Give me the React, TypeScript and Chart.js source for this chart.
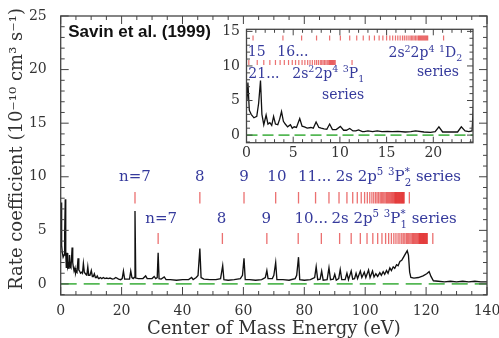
import React, { useEffect, useRef } from "react";
import { Chart, registerables } from "chart.js";

Chart.register(...registerables);

// ---------------- data ----------------
const ENERGY = [
  0.05, 0.15, 0.3, 0.5, 0.8, 1.1, 1.3, 1.5, 1.65, 1.85, 2.1, 2.3, 2.5, 2.7, 2.9, 3.1, 3.35, 3.55, 3.75, 3.95,
  4.15, 4.4, 4.7, 4.9, 5.1, 5.35, 5.7, 5.95, 6.2, 6.5, 6.9, 7.15, 7.45, 7.75, 8.0, 8.3, 8.6, 8.9, 9.2, 9.6,
  10.05, 10.4, 10.7, 11.05, 11.4, 11.7, 12.0, 12.4, 12.6, 13.0, 13.5, 14.0, 14.5, 15.1, 15.6, 16.2, 17.0, 17.6, 18.1, 19.0,
  19.7, 20.2, 20.6, 21.0, 22.0, 22.6, 23.0, 23.4, 23.8, 24.15, 24.4, 24.65, 25.5, 27.0, 27.9, 28.4, 30.0, 30.7, 31.2, 31.7,
  32.0, 32.3, 33.0, 34.0, 34.6, 36.0, 38.0, 40.0, 42.0, 43.0, 43.5, 44.5, 45.1, 45.7, 46.1, 47.0, 49.0, 51.0, 52.5, 53.2,
  53.6, 55.0, 57.0, 59.0, 59.7, 60.2, 60.6, 62.0, 64.0, 66.0, 67.2, 67.7, 68.1, 69.5, 70.0, 70.6, 71.0, 73.0, 75.0, 77.0,
  77.5, 78.1, 78.5, 80.0, 82.0, 83.4, 83.9, 84.4, 85.2, 85.7, 86.2, 87.5, 88.1, 88.6, 89.5, 90.0, 90.5, 91.3, 91.8, 92.3,
  93.4, 94.0, 94.5, 95.4, 95.9, 96.5, 97.0, 97.5, 98.4, 98.9, 99.7, 100.2, 101.1, 101.6, 102.4, 102.9, 103.5, 104.1, 104.8, 105.3,
  105.9, 106.4, 107.0, 107.5, 108.1, 108.6, 109.2, 109.7, 110.3, 110.8, 111.4, 112.0, 112.6, 113.2, 113.8, 114.2, 114.6, 115.0, 116.0, 117.5,
  119.0, 120.2, 121.0, 121.6, 122.4, 124.0, 126.0, 128.0, 130.0, 132.0, 134.0, 136.0, 138.0, 140.0,
];
const RATE = [
  5.0, 7.6, 3.6, 3.0, 2.5, 2.7, 4.6, 7.9, 3.0, 1.5, 2.9, 1.6, 1.8, 1.4, 2.7, 1.6, 1.5, 2.3, 3.4, 2.0,
  1.6, 1.2, 1.5, 1.0, 1.2, 1.1, 2.4, 1.3, 1.2, 1.0, 1.1, 1.0, 1.9, 1.1, 1.0, 0.9, 0.85, 1.6, 0.8, 0.8,
  1.25, 0.7, 0.7, 0.95, 0.6, 0.6, 0.75, 0.5, 0.5, 0.6, 0.5, 0.6, 0.5, 0.55, 0.5, 0.55, 0.45, 0.5, 0.6, 0.45,
  0.4, 0.5, 1.2, 0.45, 0.45, 0.45, 1.2, 0.6, 0.5, 0.6, 6.8, 0.55, 0.5, 0.5, 0.75, 0.5, 0.5, 0.7, 0.5, 0.6,
  2.9, 0.5, 0.45, 0.65, 0.4, 0.4, 0.35, 0.4, 0.4, 0.6, 0.4, 0.6, 0.8, 3.3, 0.6, 0.45, 0.4, 0.4, 0.5, 1.7,
  0.4, 0.35, 0.4, 0.5, 0.8, 2.4, 0.4, 0.4, 0.35, 0.4, 0.6, 1.25, 0.5, 0.5, 0.8, 2.0, 0.4, 0.4, 0.35, 0.5,
  0.8, 2.5, 0.4, 0.35, 0.4, 0.6, 1.6, 0.4, 0.45, 1.2, 0.35, 0.4, 1.5, 0.4, 0.45, 0.9, 0.35, 0.5, 1.35, 0.4,
  0.4, 1.0, 0.4, 1.2, 0.45, 0.5, 1.0, 0.5, 1.2, 0.6, 1.1, 0.6, 1.3, 0.6, 1.2, 0.65, 0.95, 0.7, 1.05, 0.8,
  1.15, 0.9, 1.25, 1.0, 1.5, 1.25, 1.6, 1.45, 1.8, 1.7, 2.1, 2.2, 2.5, 2.8, 3.1, 2.7, 1.1, 0.6, 0.55, 0.6,
  0.75, 0.95, 1.15, 0.7, 0.3, 0.25, 0.2, 0.25, 0.2, 0.25, 0.2, 0.25, 0.2, 0.2,
];

// zero reference (green dashed)
const BASELINE_X = [0, 140];
const BASELINE_Y = [0, 0];

// resonance positions, 2s 2p5 3P2 series (main panel, upper row)
const P2_SERIES = [
  24.4, 45.7, 60.2, 70.6, 78.1, 83.7, 88.1, 91.4, 94.0, 95.9, 97.4, 98.7, 99.8, 100.7, 101.5, 102.2, 102.8, 103.4,
  103.9, 104.4, 104.9, 105.3, 105.7, 106.1, 106.5, 106.9, 107.2, 107.5, 107.8, 108.1, 108.4, 108.7, 109.0, 109.3,
  109.6, 109.8, 110.0, 110.2, 110.4, 110.6, 110.8, 111.0, 111.2, 111.4, 111.6, 111.8, 112.0, 112.2, 112.4, 112.6,
  112.8, 114.5,
];
// resonance positions, 2s 2p5 3P1 series (main panel, lower row)
const P1_SERIES = [
  32.0, 53.1, 67.7, 78.0, 85.6, 91.6, 95.4, 98.4, 100.6, 102.5, 104.1, 105.5, 106.7, 107.7, 108.6, 109.4, 110.1,
  110.8, 111.4, 112.0, 112.5, 113.0, 113.5, 113.9, 114.3, 114.7, 115.1, 115.5, 115.8, 116.1, 116.4, 116.7, 117.0,
  117.3, 117.6, 117.8, 118.0, 118.2, 118.4, 118.6, 118.8, 119.0, 119.2, 119.4, 119.6, 119.8, 120.0, 120.2, 120.4,
  122.2,
];
// inset: 2s2 2p4 1D2 series
const D2_SERIES_INSET = [
  0.7, 3.9, 5.9, 7.5, 8.9, 10.05, 11.05, 11.8, 12.5, 13.15, 13.7, 14.2, 14.6, 15.0, 15.35, 15.65, 15.95, 16.2,
  16.45, 16.7, 16.9, 17.1, 17.3, 17.5, 17.65, 17.8, 17.95, 18.1, 18.25, 18.4, 18.5, 18.6, 18.7, 18.8, 18.9, 19.0,
  19.1, 19.2, 19.3, 19.4, 21.1,
];
// inset: 2s2 2p4 3P1 series
const P1_SERIES_INSET = [
  0.25, 1.15, 1.85, 2.5, 3.1, 3.6, 4.05, 4.5, 4.9, 5.25, 5.6, 5.95, 6.25, 6.55, 6.8, 7.05, 7.3, 7.5, 7.7, 7.9,
  8.05, 8.2, 8.35, 8.5, 8.65, 8.8, 8.9, 9.0, 9.1, 9.2, 9.3, 9.4, 9.5, 11.3,
];

const MAIN_X_TICKS = [0, 20, 40, 60, 80, 100, 120, 140];
const MAIN_Y_TICKS = [0, 5, 10, 15, 20, 25];
const INSET_X_TICKS = [0, 5, 10, 15, 20];
const INSET_Y_TICKS = [0, 5, 10, 15];

// marker row levels (data units)
const MAIN_ROW_P2 = 8.05;
const MAIN_ROW_P1 = 4.25;
const INSET_ROW_D2 = 14.05;
const INSET_ROW_P1 = 10.5;

type Seg = { t: string; k?: "sup" | "sub"; u?: string };
type Label = { x: number; y: number; align: "left" | "center"; segs: Seg[] };

const MAIN_LABELS: Label[] = [
  { x: 24.4, y: 10.1, align: "center", segs: [{ t: "n=7" }] },
  { x: 45.7, y: 10.1, align: "center", segs: [{ t: "8" }] },
  { x: 60.2, y: 10.1, align: "center", segs: [{ t: "9" }] },
  { x: 71.0, y: 10.1, align: "center", segs: [{ t: "10" }] },
  { x: 77.9, y: 10.1, align: "left", segs: [{ t: "11..." }] },
  {
    x: 90.3, y: 10.1, align: "left",
    segs: [{ t: "2s 2p" }, { t: "5", k: "sup" }, { t: " " }, { t: "3", k: "sup" }, { t: "P" }, { t: "*", k: "sup", u: "2" }, { t: " series" }],
  },
  { x: 33.0, y: 6.15, align: "center", segs: [{ t: "n=7" }] },
  { x: 52.8, y: 6.15, align: "center", segs: [{ t: "8" }] },
  { x: 67.5, y: 6.15, align: "center", segs: [{ t: "9" }] },
  { x: 76.8, y: 6.15, align: "left", segs: [{ t: "10..." }] },
  {
    x: 88.9, y: 6.15, align: "left",
    segs: [{ t: "2s 2p" }, { t: "5", k: "sup" }, { t: " " }, { t: "3", k: "sup" }, { t: "P" }, { t: "*", k: "sup", u: "1" }, { t: " series" }],
  },
];

const INSET_LABELS: Label[] = [
  { x: 1.1, y: 12.1, align: "center", segs: [{ t: "15" }] },
  { x: 3.3, y: 12.1, align: "left", segs: [{ t: "16..." }] },
  { x: 0.2, y: 9.0, align: "left", segs: [{ t: "21..." }] },
  {
    x: 4.9, y: 9.0, align: "left",
    segs: [{ t: "2s" }, { t: "2", k: "sup" }, { t: "2p" }, { t: "4", k: "sup" }, { t: " " }, { t: "3", k: "sup" }, { t: "P" }, { t: "1", k: "sub" }],
  },
  { x: 10.35, y: 6.0, align: "center", segs: [{ t: "series" }] },
  {
    x: 15.2, y: 12.0, align: "left",
    segs: [{ t: "2s" }, { t: "2", k: "sup" }, { t: "2p" }, { t: "4", k: "sup" }, { t: " " }, { t: "1", k: "sup" }, { t: "D" }, { t: "2", k: "sub" }],
  },
  { x: 20.5, y: 9.3, align: "center", segs: [{ t: "series" }] },
];

// ---------------- drawing helpers ----------------
const SERIF = "'DejaVu Serif', serif";
const BLUE = "#353a9c";
const RED = "rgba(222, 25, 25, 0.62)";
const INK = "#333";

function drawRich(ctx: CanvasRenderingContext2D, lab: Label, px: number, py: number, size: number) {
  const small = size * 0.68;
  const fN = `${size}px ${SERIF}`;
  const fS = `${small}px ${SERIF}`;
  const widths = lab.segs.map((s) => {
    ctx.font = s.k ? fS : fN;
    let w = ctx.measureText(s.t).width;
    if (s.u) {
      ctx.font = fS;
      w = Math.max(w, ctx.measureText(s.u).width);
    }
    return w;
  });
  const total = widths.reduce((a, b) => a + b, 0);
  let cx = lab.align === "center" ? px - total / 2 : px;
  const base = py + size * 0.36;
  ctx.textAlign = "left";
  ctx.textBaseline = "alphabetic";
  ctx.fillStyle = BLUE;
  lab.segs.forEach((s, i) => {
    if (s.k === "sup") {
      ctx.font = fS;
      ctx.fillText(s.t, cx, base - size * 0.4);
    } else if (s.k === "sub") {
      ctx.font = fS;
      ctx.fillText(s.t, cx, base + size * 0.3);
    } else {
      ctx.font = fN;
      ctx.fillText(s.t, cx, base);
    }
    if (s.u) {
      ctx.font = fS;
      ctx.fillText(s.u, cx, base + size * 0.32);
    }
    cx += widths[i];
  });
}

function labelPlugin(labels: Label[], size: number) {
  return {
    id: "labels",
    afterDraw(chart: any) {
      const { ctx, scales } = chart;
      ctx.save();
      labels.forEach((l) => drawRich(ctx, l, scales.x.getPixelForValue(l.x), scales.y.getPixelForValue(l.y), size));
      ctx.restore();
    },
  };
}

type FrameOpt = { xMinor: number; xMajor: number; yMinor: number; yMajor: number; major: number; minor: number };

function framePlugin(o: FrameOpt, fillWhite: boolean) {
  return {
    id: "frame",
    beforeDraw(chart: any) {
      if (!fillWhite) return;
      const { ctx, chartArea: a } = chart;
      ctx.save();
      ctx.fillStyle = "#fff";
      ctx.fillRect(a.left, a.top, a.right - a.left, a.bottom - a.top);
      ctx.restore();
    },
    afterDraw(chart: any) {
      const { ctx, chartArea: a, scales } = chart;
      const x = scales.x;
      const y = scales.y;
      ctx.save();
      ctx.strokeStyle = "#444";
      ctx.lineWidth = 1;
      ctx.beginPath();
      const isMajor = (v: number, m: number) => Math.abs(v / m - Math.round(v / m)) < 1e-6;
      for (let i = Math.ceil(x.min / o.xMinor); i * o.xMinor <= x.max + 1e-9; i++) {
        const v = i * o.xMinor;
        const p = x.getPixelForValue(v);
        const len = isMajor(v, o.xMajor) ? o.major : o.minor;
        ctx.moveTo(p, a.bottom);
        ctx.lineTo(p, a.bottom - len);
        ctx.moveTo(p, a.top);
        ctx.lineTo(p, a.top + len);
      }
      for (let i = Math.ceil(y.min / o.yMinor); i * o.yMinor <= y.max + 1e-9; i++) {
        const v = i * o.yMinor;
        const p = y.getPixelForValue(v);
        const len = isMajor(v, o.yMajor) ? o.major : o.minor;
        ctx.moveTo(a.left, p);
        ctx.lineTo(a.left + len, p);
        ctx.moveTo(a.right, p);
        ctx.lineTo(a.right - len, p);
      }
      ctx.stroke();
      ctx.lineWidth = 1.3;
      ctx.strokeRect(a.left, a.top, a.right - a.left, a.bottom - a.top);
      ctx.restore();
    },
  };
}

const mainExtras = {
  id: "mainExtras",
  afterDraw(chart: any) {
    const { ctx, chartArea: a } = chart;
    ctx.save();
    ctx.fillStyle = INK;
    ctx.font = `18px ${SERIF}`;
    ctx.textAlign = "center";
    ctx.textBaseline = "middle";
    ctx.translate(17, 149);
    ctx.rotate(-Math.PI / 2);
    ctx.fillText("Rate coefficient (10\u207B\u00B9\u2070 cm\u00B3 s\u207B\u00B9)", 0, 0);
    ctx.restore();
    ctx.save();
    ctx.fillStyle = "#111";
    ctx.font = "bold 17px 'Liberation Sans', Arial, sans-serif";
    ctx.textAlign = "left";
    ctx.textBaseline = "middle";
    ctx.fillText("Savin et al. (1999)", a.left + 7.5, a.top + 16.5);
    ctx.restore();
  },
};

function markerSet(xs: number[], level: number, radius: number, width: number) {
  return {
    data: xs.map((x) => ({ x, y: level })),
    showLine: false,
    pointStyle: "line",
    pointRotation: 90,
    pointRadius: radius,
    pointBorderColor: RED,
    pointBorderWidth: width,
    pointBackgroundColor: RED,
    borderColor: RED,
  };
}

function spectrumSet(width: number) {
  return {
    data: ENERGY.map((x, i) => ({ x, y: RATE[i] })),
    borderColor: "#111",
    borderWidth: width,
    pointRadius: 0,
    tension: 0,
  };
}

function baselineSet(dash: number[]) {
  return {
    data: BASELINE_X.map((x, i) => ({ x, y: BASELINE_Y[i] })),
    borderColor: "#55b855",
    borderWidth: 1.8,
    borderDash: dash,
    pointRadius: 0,
  };
}

function axis(opts: any) {
  const { min, max, ticks, fit, padding, horizontal, title } = opts;
  return {
    type: "linear",
    min,
    max,
    afterBuildTicks: (s: any) => {
      s.ticks = ticks.map((v: number) => ({ value: v }));
    },
    afterFit: (s: any) => {
      if (horizontal) {
        s.height = fit;
        s.paddingLeft = 0;
        s.paddingRight = 0;
      } else {
        s.width = fit;
        s.paddingTop = 0;
        s.paddingBottom = 0;
      }
    },
    grid: { display: false, drawTicks: false },
    border: { display: false },
    ticks: {
      font: { family: SERIF, size: 14, lineHeight: 1.2 },
      color: INK,
      padding,
      maxRotation: 0,
      autoSkip: false,
      callback: (v: number) => String(v),
    },
    title: title
      ? { display: true, text: title, color: INK, font: { family: SERIF, size: 18, lineHeight: 1 }, padding: { top: 0, bottom: 0 } }
      : { display: false },
  };
}

export default function App() {
  const mainRef = useRef<HTMLCanvasElement>(null);
  const insetRef = useRef<HTMLCanvasElement>(null);

  useEffect(() => {
    const main = new Chart(mainRef.current as HTMLCanvasElement, {
      type: "line",
      data: {
        datasets: [
          spectrumSet(1.35),
          baselineSet([16, 7]),
          markerSet(P2_SERIES, MAIN_ROW_P2, 5.8, 1.3),
          markerSet(P1_SERIES, MAIN_ROW_P1, 5.5, 1.3),
        ] as any,
      },
      options: {
        animation: false,
        responsive: false,
        devicePixelRatio: 1,
        events: [],
        layout: { padding: { top: 16, right: 12, left: 0, bottom: 0 } },
        plugins: { legend: { display: false }, tooltip: { enabled: false } },
        scales: {
          x: axis({ min: 0, max: 140, ticks: MAIN_X_TICKS, fit: 43, padding: 8, horizontal: true, title: "Center of Mass Energy (eV)" }),
          y: axis({ min: -1.03, max: 25, ticks: MAIN_Y_TICKS, fit: 60.7, padding: 14, horizontal: false }),
        },
      } as any,
      plugins: [
        framePlugin({ xMinor: 5, xMajor: 20, yMinor: 1, yMajor: 5, major: 8, minor: 4 }, false),
        labelPlugin(MAIN_LABELS, 15),
        mainExtras,
      ],
    });

    const inset = new Chart(insetRef.current as HTMLCanvasElement, {
      type: "line",
      data: {
        datasets: [
          spectrumSet(1.3),
          baselineSet([11, 5]),
          markerSet(D2_SERIES_INSET, INSET_ROW_D2, 2.5, 1.2),
          markerSet(P1_SERIES_INSET, INSET_ROW_P1, 2.5, 1.2),
        ] as any,
      },
      options: {
        animation: false,
        responsive: false,
        devicePixelRatio: 1,
        events: [],
        layout: { padding: { top: 9.3, right: 17, left: 0, bottom: 0 } },
        plugins: { legend: { display: false }, tooltip: { enabled: false } },
        scales: {
          x: axis({ min: 0, max: 24.25, ticks: INSET_X_TICKS, fit: 27.3, padding: 2, horizontal: true }),
          y: axis({ min: -1.1, max: 15.3, ticks: INSET_Y_TICKS, fit: 46.5, padding: 6.5, horizontal: false }),
        },
      } as any,
      plugins: [
        framePlugin({ xMinor: 1, xMajor: 5, yMinor: 1, yMajor: 5, major: 6, minor: 3.5 }, true),
        labelPlugin(INSET_LABELS, 14),
      ],
    });

    return () => {
      main.destroy();
      inset.destroy();
    };
  }, []);

  return (
    <div style={{ position: "absolute", left: 0, top: 0, width: 499, height: 338, background: "#fff", overflow: "hidden" }}>
      <canvas ref={mainRef} width={499} height={338} style={{ position: "absolute", left: 0, top: 0 }} />
      <canvas ref={insetRef} width={290} height={150} style={{ position: "absolute", left: 200, top: 20 }} />
    </div>
  );
}
